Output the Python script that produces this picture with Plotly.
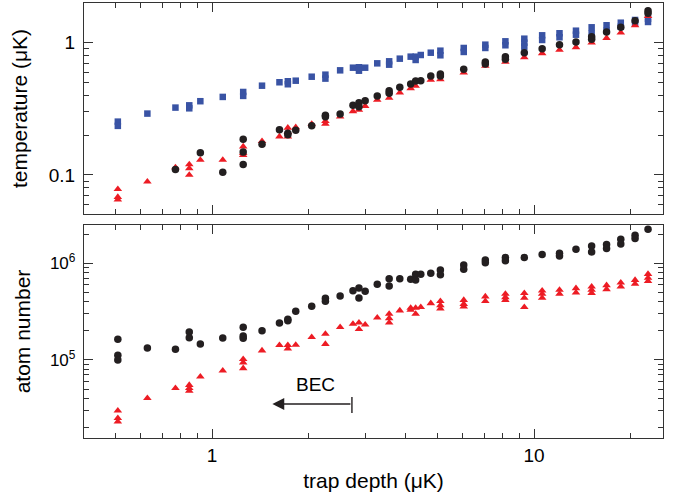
import math
import plotly.graph_objects as go

# ---------------- data ----------------
# top panel: temperature (uK) vs trap depth (uK)
temp_blue_x = [0.51, 0.51, 0.63, 0.77, 0.85, 0.85, 0.92, 1.08, 1.25, 1.25, 1.43, 1.62, 1.72, 1.72,
               1.82, 2.04, 2.25, 2.25, 2.50, 2.74, 2.86, 2.86, 2.99, 3.26, 3.55, 3.55, 3.83, 4.14,
               4.29, 4.29, 4.45, 4.78, 5.12, 5.12, 6.05, 6.05, 7.06, 7.06, 8.15, 8.15, 9.33, 9.33,
               9.33, 10.6, 10.6, 12.0, 12.0, 13.5, 13.5, 15.1, 15.1, 16.8, 16.8, 18.6, 18.6, 20.6,
               20.6, 22.6, 22.6]
temp_blue_y = [0.253, 0.235, 0.291, 0.323, 0.336, 0.319, 0.361, 0.389, 0.424, 0.396, 0.473, 0.502,
               0.511, 0.485, 0.516, 0.553, 0.573, 0.535, 0.618, 0.647, 0.652, 0.614, 0.647, 0.698,
               0.723, 0.682, 0.757, 0.784, 0.784, 0.740, 0.807, 0.840, 0.870, 0.803, 0.912, 0.851,
               0.966, 0.912, 1.024, 0.956, 1.072, 1.000, 0.933, 1.137, 1.048, 1.178, 1.099, 1.232,
               1.149, 1.307, 1.178, 1.354, 1.232, 1.416, 1.320, 1.485, 1.401, 1.518, 1.434]

temp_black_x = [0.77, 0.92, 1.08, 1.25, 1.25, 1.25, 1.43, 1.62, 1.72, 1.72, 1.82, 2.04, 2.25, 2.25,
                2.50, 2.74, 2.86, 2.86, 2.99, 3.26, 3.55, 3.55, 3.83, 4.14, 4.29, 4.45, 4.78, 5.12,
                5.12, 6.05, 7.06, 7.06, 8.15, 8.15, 9.33, 10.6, 12.0, 13.5, 15.1, 15.1, 16.8, 18.6,
                20.6, 22.6, 22.6]
temp_black_y = [0.110, 0.147, 0.105, 0.186, 0.149, 0.120, 0.171, 0.220, 0.207, 0.201, 0.218, 0.235,
                0.283, 0.275, 0.289, 0.336, 0.352, 0.328, 0.364, 0.396, 0.434, 0.414, 0.460, 0.488,
                0.513, 0.516, 0.560, 0.580, 0.560, 0.629, 0.715, 0.690, 0.784, 0.749, 0.840, 0.901,
                0.966, 1.012, 1.110, 1.060, 1.205, 1.307, 1.466, 1.745, 1.668]

temp_red_x = [0.51, 0.51, 0.51, 0.63, 0.77, 0.85, 0.85, 0.85, 0.92, 1.08, 1.25, 1.25, 1.25, 1.43,
              1.62, 1.72, 1.72, 1.72, 1.82, 2.04, 2.25, 2.25, 2.50, 2.74, 2.86, 2.99, 3.26, 3.55,
              3.83, 4.14, 4.29, 4.78, 5.12, 6.05, 7.06, 8.15, 9.33, 10.6, 12.0, 13.5, 15.1, 16.8,
              18.6, 20.6, 22.6]
temp_red_y = [0.078, 0.068, 0.065, 0.089, 0.114, 0.120, 0.112, 0.100, 0.130, 0.130, 0.164, 0.146,
              0.141, 0.180, 0.195, 0.227, 0.211, 0.195, 0.229, 0.243, 0.255, 0.243, 0.276, 0.303,
              0.310, 0.332, 0.369, 0.382, 0.419, 0.452, 0.471, 0.523, 0.529, 0.593, 0.667, 0.715,
              0.776, 0.831, 0.881, 0.923, 1.000, 1.085, 1.190, 1.354, 1.591]

# bottom panel: atom number vs trap depth (uK)
num_black_x = [0.51, 0.51, 0.51, 0.63, 0.77, 0.85, 0.85, 0.92, 1.08, 1.25, 1.25, 1.25, 1.43, 1.62,
               1.72, 1.72, 1.82, 2.04, 2.25, 2.25, 2.50, 2.74, 2.86, 2.86, 2.99, 3.26, 3.55, 3.55,
               3.83, 4.14, 4.29, 4.29, 4.45, 4.78, 5.12, 5.12, 6.05, 6.05, 7.06, 7.06, 8.15, 8.15,
               9.33, 10.6, 12.0, 12.0, 13.5, 15.1, 15.1, 16.8, 16.8, 18.6, 18.6, 20.6, 20.6, 22.6]
num_black_y = [1.64e5, 1.12e5, 1.00e5, 1.33e5, 1.29e5, 1.95e5, 1.70e5, 1.46e5, 1.69e5, 2.18e5,
               1.77e5, 1.68e5, 2.01e5, 2.41e5, 2.64e5, 2.55e5, 3.19e5, 3.59e5, 4.35e5, 4.05e5,
               4.59e5, 5.21e5, 5.56e5, 4.38e5, 5.13e5, 6.06e5, 6.93e5, 5.82e5, 6.93e5, 6.83e5,
               7.70e5, 6.71e5, 7.70e5, 7.89e5, 8.53e5, 7.63e5, 9.60e5, 8.67e5, 1.08e6, 1.01e6,
               1.15e6, 1.06e6, 1.15e6, 1.23e6, 1.27e6, 1.19e6, 1.40e6, 1.51e6, 1.31e6, 1.56e6,
               1.42e6, 1.77e6, 1.58e6, 1.95e6, 1.80e6, 2.25e6]

num_red_x = [0.51, 0.51, 0.51, 0.63, 0.77, 0.85, 0.85, 0.85, 0.92, 1.08, 1.25, 1.25, 1.25, 1.43,
             1.62, 1.72, 1.72, 1.82, 2.04, 2.25, 2.25, 2.50, 2.74, 2.86, 2.86, 2.99, 3.26, 3.55,
             3.55, 3.55, 3.83, 4.14, 4.14, 4.29, 4.29, 4.45, 4.78, 5.12, 5.12, 5.12, 6.05, 6.05,
             6.05, 7.06, 7.06, 8.15, 8.15, 8.15, 9.33, 9.33, 9.33, 10.6, 10.6, 10.6, 12.0, 12.0,
             13.5, 13.5, 15.1, 15.1, 15.1, 16.8, 16.8, 18.6, 18.6, 20.6, 20.6, 22.6, 22.6, 22.6]
num_red_y = [2.99e4, 2.50e4, 2.30e4, 4.02e4, 5.10e4, 5.50e4, 5.10e4, 4.80e4, 6.71e4, 7.75e4,
             1.02e5, 9.40e4, 8.20e4, 1.25e5, 1.42e5, 1.42e5, 1.31e5, 1.43e5, 1.72e5, 1.86e5,
             1.46e5, 2.18e5, 2.36e5, 2.43e5, 2.08e5, 2.32e5, 2.74e5, 2.99e5, 2.70e5, 2.43e5,
             3.24e5, 3.45e5, 3.29e5, 3.45e5, 2.99e5, 3.51e5, 3.86e5, 4.05e5, 3.68e5, 3.40e5,
             4.17e5, 3.79e5, 3.56e5, 4.52e5, 4.05e5, 4.82e5, 4.45e5, 4.17e5, 4.90e5, 4.38e5,
             3.51e5, 5.21e5, 4.82e5, 4.38e5, 5.30e5, 4.82e5, 5.51e5, 4.97e5, 5.73e5, 5.30e5,
             4.90e5, 5.92e5, 5.38e5, 6.30e5, 5.73e5, 6.71e5, 6.11e5, 7.74e5, 7.05e5, 6.52e5]

# tick labels
x_tickvals = [1, 10]
x_ticktext = ["1", "10"]
temp_tickvals = [0.1, 1]
temp_ticktext = ["0.1", "1"]
num_tickvals = [1e5, 1e6]
num_ticktext = ["10<sup>5</sup>", "10<sup>6</sup>"]

# BEC arrow (trap depth range and atom-number level)
bec_x_start = 2.72
bec_x_end = 1.54
bec_y = 3.51e4
bec_bar_y = [2.83e4, 4.14e4]
bec_label_x = 2.09
bec_label_y = 5.6e4

BLUE = "#3953A4"
RED = "#ED1C24"
BLACK = "#231F20"
AX = "#333333"
FONT = "Liberation Sans, Arial, Helvetica, sans-serif"

fig = go.Figure()

def add(x, y, color, symbol, size, xa, ya):
    fig.add_trace(go.Scatter(x=x, y=y, mode="markers", xaxis=xa, yaxis=ya,
                             marker=dict(color=color, symbol=symbol, size=size, line=dict(width=0)),
                             showlegend=False, hoverinfo="skip"))

add(temp_blue_x, temp_blue_y, BLUE, "square", 6.5, "x", "y")
add(temp_red_x, temp_red_y, RED, "triangle-up", 7.5, "x", "y")
add(temp_black_x, temp_black_y, BLACK, "circle", 7.5, "x", "y")
add(num_black_x, num_black_y, BLACK, "circle", 7.5, "x2", "y2")
add(num_red_x, num_red_y, RED, "triangle-up", 7.5, "x2", "y2")

# BEC bar at the arrow tail
fig.add_trace(go.Scatter(x=[bec_x_start, bec_x_start], y=bec_bar_y, mode="lines",
                         xaxis="x2", yaxis="y2", line=dict(color=BLACK, width=1.4),
                         showlegend=False, hoverinfo="skip"))

common_axis = dict(showline=True, linecolor=AX, linewidth=1.3, mirror="allticks",
                   ticks="inside", ticklen=9, tickwidth=1.2, tickcolor=AX,
                   showgrid=False, zeroline=False, type="log", automargin=False,
                   tickmode="array",
                   minor=dict(ticks="inside", ticklen=5, tickwidth=1, tickcolor=AX, dtick="D1",
                              showgrid=False),
                   tickfont=dict(family=FONT, size=19, color="black"))

xr = [-0.3975, 1.4006]
fig.update_layout(
    width=674, height=496,
    margin=dict(l=84, r=11, t=3, b=58),
    paper_bgcolor="white", plot_bgcolor="white",
    font=dict(family=FONT, color="black"),
    xaxis=dict(common_axis, range=xr, anchor="y", showticklabels=False,
               tickvals=x_tickvals, ticktext=x_ticktext),
    xaxis2=dict(common_axis, range=xr, anchor="y2", tickvals=x_tickvals, ticktext=x_ticktext,
                ticklabelstandoff=0,
                title=dict(text="trap depth (μK)", font=dict(family=FONT, size=21), standoff=8)),
    yaxis=dict(common_axis, range=[-1.295, 0.300], domain=[0.515, 1], anchor="x",
               tickvals=temp_tickvals, ticktext=temp_ticktext, ticklabelstandoff=4,
               title=dict(text="temperature (μK)", font=dict(family=FONT, size=21), standoff=15)),
    yaxis2=dict(common_axis, range=[4.193, 6.396], domain=[0, 0.4897], anchor="x2",
                tickvals=num_tickvals, ticktext=num_ticktext, ticklabelstandoff=4,
                tickfont=dict(family=FONT, size=17, color="black"),
                title=dict(text="atom number", font=dict(family=FONT, size=21), standoff=13)),
)

fig.add_annotation(x=math.log10(bec_x_end), y=math.log10(bec_y),
                   ax=math.log10(bec_x_start), ay=math.log10(bec_y),
                   xref="x2", yref="y2", axref="x2", ayref="y2",
                   text="", showarrow=True, arrowhead=2, arrowsize=1.7, arrowwidth=1.4,
                   arrowcolor=BLACK)
fig.add_annotation(x=math.log10(bec_label_x), y=math.log10(bec_label_y), xref="x2", yref="y2",
                   text="BEC", showarrow=False, font=dict(family=FONT, size=19, color="black"))

fig.write_html("out.html", config={"displayModeBar": False},
               post_script="document.body.style.margin='0';")
